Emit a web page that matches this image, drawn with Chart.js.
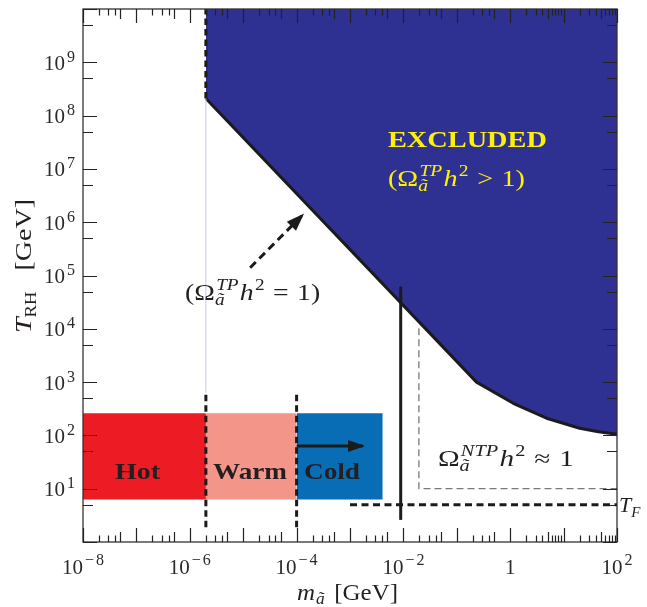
<!DOCTYPE html>
<html><head><meta charset="utf-8">
<script src="https://cdn.jsdelivr.net/npm/chart.js@4.4.1/dist/chart.umd.min.js"></script>
<style>html,body{margin:0;padding:0;background:#fff}canvas{display:block}</style>
</head><body>
<canvas id="c" width="647" height="607"></canvas>
<script>
// ---------------- data (axino mass m [GeV], reheating temperature T_RH [GeV]) ----------------
const boundaryMass = [2e-6, 0.234, 1.14, 4.8, 20, 45, 100];
const boundaryTRH  = [2.1e8, 1.0e3, 400, 210, 136, 117, 105];
const excludedTopMass = [2e-6, 2e-6];
const excludedTopTRH  = [2.1e8, 1e10];
const faintMass = [2e-6, 2e-6];
const faintTRH  = [630, 2.1e8];
const regimeNames = ['Hot', 'Warm', 'Cold'];
const regimeEdges = [1e-8, 2e-6, 1e-4, 4.1e-3];
const regimeTop = 260;
const regimeBottom = 6.3;
const dividerMass = [2e-6, 1e-4];
const dividerTRH  = [1.9, 630];
const lssMass = [8.9e-3, 8.9e-3];
const lssTRH  = [2.6, 6.2e4];
const ntpMass = [0.0195, 0.0195, 100];
const ntpTRH  = [1.02e4, 10, 10];
const tfMass = [1e-3, 100];
const tfTRH  = [5, 5];
const coldArrowMass = [1e-4, 1.75e-3];
const coldArrowTRH  = [63, 63];
const tpArrowMass = [1.35e-5, 1.3e-4];
const tpArrowTRH  = [1.4e5, 1.37e6];
// tick labels
const xLabelVals = [1e-8, 1e-6, 1e-4, 1e-2, 1, 1e2];
const xLabelExps = ['\u22128', '\u22126', '\u22124', '\u22122', '', '2'];
const yLabelVals = [1e1, 1e2, 1e3, 1e4, 1e5, 1e6, 1e7, 1e8, 1e9];
const yLabelExps = ['1', '2', '3', '4', '5', '6', '7', '8', '9'];
const xDecades = [-8, -7, -6, -5, -4, -3, -2, -1, 0, 1, 2];
const yDecades = [0, 1, 2, 3, 4, 5, 6, 7, 8, 9, 10];
const minorLow = [2, 3, 4, 5];
const minorHigh = [2, 3, 4, 5, 6, 7, 8, 9];
// text anchors (data coordinates)
const regimeLabelMass = [1.05e-7, 1.34e-5, 4.6e-4];
const regimeLabelTRH = 15;

// ---------------- helpers ----------------
const SERIF = '"Liberation Serif", "Times New Roman", serif';
const F = (style, size) => `${style} ${size}px ${SERIF}`;
const pts = (xs, ys) => xs.map((x, i) => ({x, y: ys[i]}));
const INK = '#231F20';

function layoutRich(ctx, segs) {
  let cur = 0, prevStart = 0, prevW = 0;
  const pos = [];
  for (const s of segs) {
    ctx.font = s.f;
    const w = ctx.measureText(s.t).width;
    let start;
    if (s.stack) { start = prevStart + (s.gap || 0); cur = Math.max(prevStart + prevW, start + w); }
    else { start = cur + (s.gap || 0); cur = start + w; }
    pos.push(start); prevStart = start; prevW = w;
  }
  return {pos, width: cur};
}
function drawRich(ctx, segs, x, y, align, fitW, color) {
  const L = layoutRich(ctx, segs);
  const sx = fitW ? fitW / L.width : 1;
  const W = L.width * sx;
  const x0 = align === 'center' ? x - W / 2 : align === 'right' ? x - W : x;
  ctx.save();
  ctx.translate(x0, y); ctx.scale(sx, 1);
  ctx.fillStyle = color; ctx.textAlign = 'left'; ctx.textBaseline = 'alphabetic';
  segs.forEach((s, i) => { ctx.font = s.f; ctx.fillText(s.t, L.pos[i], s.dy || 0); });
  ctx.restore();
}
function omegaSegs(S, s, sup, rel, paren) {
  const segs = [];
  if (paren) segs.push({t: '(', f: F('normal', S)});
  segs.push({t: '\u03A9', f: F('normal', S)});
  segs.push({t: '\u00E3', f: F('italic', s), dy: 5});
  segs.push({t: sup, f: F('italic', s), dy: -10, stack: true, gap: 1});
  segs.push({t: 'h', f: F('italic', S), gap: 1});
  segs.push({t: '2', f: F('normal', s), dy: -10, gap: 1});
  segs.push({t: rel, f: F('normal', S), gap: 7});
  segs.push({t: '1', f: F('normal', S), gap: 7});
  if (paren) segs.push({t: ')', f: F('normal', S)});
  return segs;
}
function arrowHead(ctx, x0, y0, x1, y1, len, half, color) {
  const ang = Math.atan2(y1 - y0, x1 - x0);
  ctx.save();
  ctx.translate(x1, y1); ctx.rotate(ang);
  ctx.fillStyle = color;
  ctx.beginPath(); ctx.moveTo(2, 0); ctx.lineTo(-len, -half); ctx.lineTo(-len, half); ctx.closePath(); ctx.fill();
  ctx.restore();
}

const line = (data, color, width, dash, order) => ({
  data, showLine: true, fill: false, borderColor: color, borderWidth: width,
  borderDash: dash || [], pointRadius: 0, order: order || 1, borderCapStyle: 'butt'
});
const box = (i, color) => ({
  data: pts([regimeEdges[i], regimeEdges[i + 1]], [regimeTop, regimeTop]),
  showLine: true, fill: {value: regimeBottom}, backgroundColor: color,
  borderColor: 'rgba(0,0,0,0)', borderWidth: 1, pointRadius: 0, order: 30
});

const datasets = [
  box(0, '#ED1C24'),
  box(1, '#F4958A'),
  box(2, '#086DB5'),
  Object.assign(line(pts(boundaryMass, boundaryTRH), '#1b1b1b', 3, null, 20),
    {fill: 'end', backgroundColor: '#2E3192', borderJoinStyle: 'round'}),
  line(pts(faintMass, faintTRH), '#CACAEA', 1, null, 19),
  line(pts(excludedTopMass, excludedTopTRH), '#1b1b1b', 3, [6.5, 4]),
  line(pts([dividerMass[0], dividerMass[0]], dividerTRH), '#1b1b1b', 3, [6.5, 4]),
  line(pts([dividerMass[1], dividerMass[1]], dividerTRH), '#1b1b1b', 3, [6.5, 4]),
  line(pts(lssMass, lssTRH), '#1b1b1b', 3),
  line(pts(ntpMass, ntpTRH), '#7a7a7a', 1.3, [7, 4]),
  line(pts(tfMass, tfTRH), '#1b1b1b', 3, [7, 4.5]),
  line(pts(coldArrowMass, coldArrowTRH), '#1b1b1b', 3),
  line(pts(tpArrowMass, tpArrowTRH), '#1b1b1b', 3, [8, 5])
];

const decor = {
  id: 'decor',
  afterDraw(chart) {
    const {ctx, chartArea: a, scales: {x: xs, y: ys}} = chart;
    const X = v => xs.getPixelForValue(v), Y = v => ys.getPixelForValue(v);
    ctx.save();
    // arrowheads
    arrowHead(ctx, X(coldArrowMass[0]), Y(coldArrowTRH[0]), X(coldArrowMass[1]), Y(coldArrowTRH[1]), 15, 6, '#1b1b1b');
    arrowHead(ctx, X(tpArrowMass[0]), Y(tpArrowTRH[0]), X(tpArrowMass[1]), Y(tpArrowTRH[1]), 16, 6.5, '#1b1b1b');
    // frame
    ctx.strokeStyle = '#333'; ctx.lineWidth = 1.3;
    ctx.strokeRect(a.left, a.top, a.right - a.left, a.bottom - a.top);
    // ticks
    ctx.strokeStyle = '#222'; ctx.lineWidth = 1.2;
    ctx.beginPath();
    const vt = (px, len) => { ctx.moveTo(px, a.bottom); ctx.lineTo(px, a.bottom - len); ctx.moveTo(px, a.top); ctx.lineTo(px, a.top + len); };
    const ht = (py, len) => { ctx.moveTo(a.left, py); ctx.lineTo(a.left + len, py); ctx.moveTo(a.right, py); ctx.lineTo(a.right - len, py); };
    xDecades.forEach(e => {
      const base = Math.pow(10, e);
      vt(Math.round(X(base)) + 0.5, 14);
      if (e < 2) (e >= 0 ? minorHigh : minorLow).forEach(m => vt(Math.round(X(m * base)) + 0.5, m === 5 ? 10 : 6.5));
    });
    yDecades.forEach(e => {
      const base = Math.pow(10, e);
      ht(Math.round(Y(base)) + 0.5, 14);
      if (e < 10) ht(Math.round(Y(5 * base)) + 0.5, 10);
    });
    ctx.stroke();
    // tick labels
    xLabelVals.forEach((v, i) => {
      const e = xLabelExps[i];
      const segs = e === '' ? [{t: '1', f: F('normal', 21)}]
        : e.length > 1 ? [{t: '10', f: F('normal', 21)}, {t: e[0], f: F('normal', 16), dy: -9, gap: 2}, {t: e.slice(1), f: F('normal', 16), dy: -9, gap: 2}]
        : [{t: '10', f: F('normal', 21)}, {t: e, f: F('normal', 16), dy: -9, gap: 2}];
      drawRich(ctx, segs, X(v), 574, 'center', null, '#2a2a2a');
    });
    yLabelVals.forEach((v, i) => {
      const segs = [{t: '10', f: F('normal', 21)}, {t: yLabelExps[i], f: F('normal', 16), dy: -8, gap: 2}];
      drawRich(ctx, segs, 75, Y(v) + 7.5, 'right', null, '#2a2a2a');
    });
    // axis titles
    drawRich(ctx, [{t: 'm', f: F('italic', 23)}, {t: '\u00E3', f: F('italic', 16), dy: 4, gap: 1},
      {t: ' [GeV]', f: F('normal', 23), gap: 3}], 347.5, 600, 'center', 101, INK);
    ctx.save(); ctx.translate(31, 266); ctx.rotate(-Math.PI / 2);
    drawRich(ctx, [{t: 'T', f: F('italic', 24)}, {t: 'RH', f: F('normal', 16), dy: 5},
      {t: ' [GeV]', f: F('normal', 24), gap: 12}], 0, 0, 'center', 134, INK);
    ctx.restore();
    // annotations
    drawRich(ctx, [{t: 'EXCLUDED', f: F('bold', 23)}], X(0.158), Y(2.6e7), 'center', 159, '#FFF200');
    drawRich(ctx, omegaSegs(23, 16, 'TP', '>', true), X(0.0986), Y(4.8e6), 'center', 137, '#FFF200');
    drawRich(ctx, omegaSegs(23, 16, 'TP', '=', true), X(1.5e-5), Y(3.5e4), 'center', 135, INK);
    drawRich(ctx, omegaSegs(23, 16, 'NTP', '\u2248', false), X(0.83), Y(26.7), 'center', 136, INK);
    const regimeW = [45, 74, 56];
    regimeNames.forEach((n, i) => drawRich(ctx, [{t: n, f: F('bold', 24)}], X(regimeLabelMass[i]), Y(regimeLabelTRH), 'center', regimeW[i], INK));
    drawRich(ctx, [{t: 'T', f: F('italic', 22)}, {t: 'F', f: F('italic', 15), dy: 5}], a.right + 2, Y(tfTRH[0]) + 7, 'left', null, INK);
    ctx.restore();
  }
};

new Chart(document.getElementById('c').getContext('2d'), {
  type: 'scatter',
  data: {datasets},
  options: {
    responsive: false, animation: false, devicePixelRatio: 1,
    layout: {padding: {left: 83, top: 9, right: 30, bottom: 65}},
    plugins: {legend: {display: false}, tooltip: {enabled: false}},
    scales: {
      x: {type: 'logarithmic', min: 1e-8, max: 1e2, display: false},
      y: {type: 'logarithmic', min: 1, max: 1e10, display: false}
    },
    elements: {line: {tension: 0}, point: {radius: 0}}
  },
  plugins: [decor]
});
</script>
</body></html>
